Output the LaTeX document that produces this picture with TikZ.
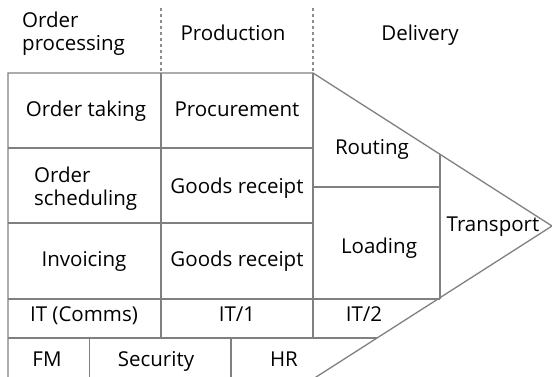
\documentclass[tikz,border=0pt]{standalone}
\usepackage{fontspec}
\setmainfont{Open Sans}
\begin{document}
\begin{tikzpicture}[x=1pt,y=-1pt,
  rule/.style={draw=black!50, line width=1.3pt},
  guide/.style={draw=black!45, line width=1.1pt, dash pattern=on 3pt off 3pt},
  lbl/.style={font=\fontsize{20.5}{22.6}\selectfont, text=black, inner sep=0pt, anchor=base},
  lbll/.style={lbl, align=left, anchor=west}]
\useasboundingbox (0,0) rectangle (552,377);

% frame corners and grid points
\coordinate (tl) at (8,73);
\coordinate (bl) at (8,377);
\coordinate (c1t) at (161,73);
\coordinate (c2t) at (313,73);
\coordinate (apex) at (552,226);
\coordinate (tail) at (313,379);

% dashed column guides above the frame
\draw[guide] (161,8) -- (c1t);
\draw[guide] (313,8) -- (c2t);

% outer outline
\draw[rule] (bl) -- (tl) -- (c2t) -- (apex) -- (tail);

% left block grid
\draw[rule] (8,148) -- (313,148);
\draw[rule] (8,223) -- (313,223);
\draw[rule] (8,299) -- (440,299);
\draw[rule] (8,338) -- (377,338);
\draw[rule] (c1t) -- (161,338);
\draw[rule] (c2t) -- (313,338);
\draw[rule] (89.5,338) -- (89.5,377);
\draw[rule] (231,338) -- (231,377);

% delivery block
\draw[rule] (313,187) -- (440,187);
\draw[rule] (440,154) -- (440,299);

% column headings
\node[lbll] (hOrder) at (22,33.5) {Order\\processing};
\node[lbl] (hProd) at (233,41) {Production};
\node[lbl] (hDel) at (420,41) {Delivery};

% cells
\node[lbl] (orderTaking) at (86,116.7) {Order taking};
\node[lbl] (procurement) at (237,116.7) {Procurement};
\node[lbll] (orderSched) at (34,188.4) {Order\\scheduling};
\node[lbl] (goods1) at (237,193.3) {Goods receipt};
\node[lbl] (invoicing) at (84,266.7) {Invoicing};
\node[lbl] (goods2) at (237,266.7) {Goods receipt};
\node[lbl] (itComms) at (84,321.7) {IT (Comms)};
\node[lbl] (it1) at (237,321.7) {IT/1};
\node[lbl] (fm) at (47,366.7) {FM};
\node[lbl] (security) at (156,366.7) {Security};
\node[lbl] (hr) at (284,366.7) {HR};
\node[lbl] (routing) at (372,155) {Routing};
\node[lbl] (loading) at (379,254) {Loading};
\node[lbl] (transport) at (493,231.7) {Transport};
\node[lbl] (it2) at (364,321.7) {IT/2};
\end{tikzpicture}
\end{document}
